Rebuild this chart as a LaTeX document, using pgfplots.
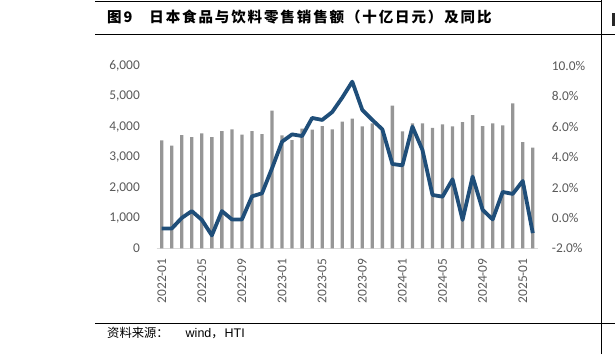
\documentclass[border=0pt]{standalone}
\usepackage{pgfplots}
\pgfplotsset{compat=1.18}
\usepackage{fontspec}
\setmainfont{Carlito}
\newfontfamily\cjk{Noto Sans CJK SC}
\newfontfamily\cjkt[LetterSpace=13]{Noto Sans CJK SC}
\newfontfamily\arial{Liberation Sans}
\definecolor{bargray}{RGB}{150,150,150}
\definecolor{linblue}{RGB}{31,78,121}
\definecolor{ticktxt}{RGB}{89,89,89}
\definecolor{axgray}{RGB}{217,217,217}
\begin{document}
\begin{tikzpicture}
\path[use as bounding box] (0pt,0pt) rectangle (615pt,354pt);
\draw[line width=1pt] (95pt,352.5pt) -- (601pt,352.5pt);
\draw[line width=1pt] (95pt,319pt) -- (615pt,319pt);
\draw[line width=0.8pt] (95pt,30.5pt) -- (615pt,30.5pt);
\draw[line width=0.8pt] (601pt,0pt) -- (601pt,354pt);
\fill[black!85] (611.8pt,328pt) rectangle (615pt,341pt);
\node[anchor=west, inner sep=0pt, font=\cjkt\bfseries\fontsize{14.5}{16}\selectfont] at (107pt,337.3pt) {图9\hspace{17pt}日本食品与饮料零售销售额（十亿日元）及同比};
\node[anchor=west, inner sep=0pt, font=\cjk\fontsize{12.3}{14}\selectfont] at (107pt,21pt) {资料来源：\hspace{17pt}{\arial\fontsize{12.5}{14}\selectfont wind}，\hspace{1pt}{\arial\fontsize{12.5}{14}\selectfont HTI}};

\begin{axis}[
  at={(156.7pt,105.7pt)}, anchor=south west, scale only axis,
  width=381.1pt, height=182.3pt,
  xmin=-0.5, xmax=37.5, ymin=0, ymax=6000,
  axis x line*=bottom, axis y line*=left,
  x axis line style={draw=axgray, line width=0.8pt, -},
  y axis line style={draw=none},
  major tick length=0pt,
  xtick={0,4,...,36},
  xticklabels={2022-01,2022-05,2022-09,2023-01,2023-05,2023-09,2024-01,2024-05,2024-09,2025-01},
  xticklabel style={rotate=90, anchor=east, inner sep=0pt, font=\fontsize{13.4}{15}\selectfont, text=ticktxt},
  xticklabel shift=10pt,
  ytick={0,1000,...,6000},
  yticklabels={0,{1,000},{2,000},{3,000},{4,000},{5,000},{6,000}},
  yticklabel style={anchor=east, inner sep=0pt, font=\fontsize{13.4}{15}\selectfont, text=ticktxt},
  yticklabel shift=16.7pt,
]
\addplot[ybar, bar width=3.3pt, fill=bargray, draw=none] coordinates {
(0,3553) (1,3377) (2,3728) (3,3662) (4,3783) (5,3662) (6,3860) (7,3914) (8,3739) (9,3860)
(10,3761) (11,4529) (12,3717) (13,3564) (14,3936) (15,3904) (16,4024) (17,3914) (18,4172) (19,4265)
(20,4013) (21,4112) (22,3893) (23,4693) (24,3850) (25,4110) (26,4112) (27,3960) (28,4079) (29,4013)
(30,4156) (31,4386) (32,4024) (33,4112) (34,4046) (35,4770) (36,3498) (37,3311)
};
\end{axis}

\begin{axis}[
  at={(156.7pt,105.7pt)}, anchor=south west, scale only axis,
  width=381.1pt, height=182.3pt,
  xmin=-0.5, xmax=37.5, ymin=-2, ymax=10,
  axis x line=none, axis y line*=right,
  y axis line style={draw=none},
  major tick length=0pt,
  ytick={-2,0,2,4,6,8,10},
  yticklabels={-2.0\%,0.0\%,2.0\%,4.0\%,6.0\%,8.0\%,10.0\%},
  yticklabel style={anchor=west, inner sep=0pt, font=\fontsize{13.4}{15}\selectfont, text=ticktxt},
  yticklabel shift=13.9pt,
]
\addplot[linblue, line width=3.8pt, line join=round, no marks] coordinates {
(0,-0.70) (1,-0.70) (2,0.0) (3,0.45) (4,-0.13) (5,-1.15) (6,0.45) (7,-0.10) (8,-0.10) (9,1.42)
(10,1.62) (11,3.27) (12,5.02) (13,5.50) (14,5.39) (15,6.58) (16,6.45) (17,6.97) (18,7.92) (19,8.97)
(20,7.11) (21,6.45) (22,5.83) (23,3.55) (24,3.46) (25,6.01) (26,4.47) (27,1.51) (28,1.40) (29,2.54)
(30,-0.13) (31,2.72) (32,0.53) (33,-0.10) (34,1.71) (35,1.58) (36,2.43) (37,-1.0)
};
\end{axis}
\end{tikzpicture}
\end{document}
